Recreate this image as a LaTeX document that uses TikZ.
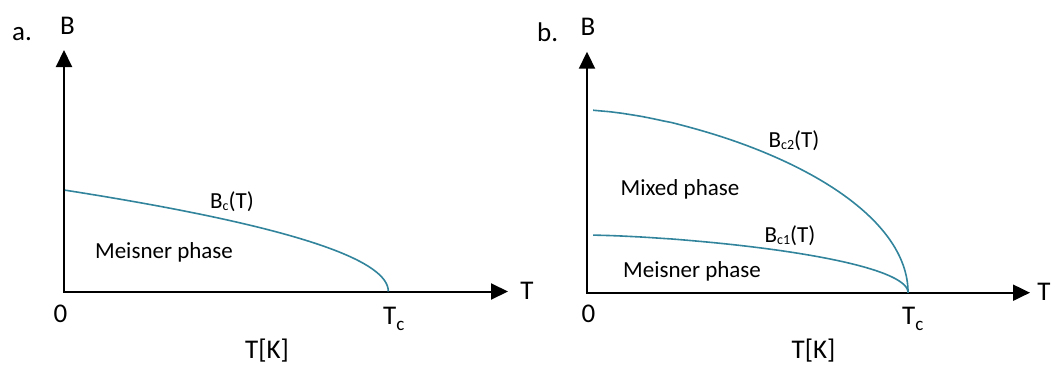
\documentclass[tikz,border=0pt]{standalone}
\usepackage{fontspec}
\setmainfont{Carlito}
\usetikzlibrary{arrows.meta}
\definecolor{curvecol}{RGB}{49,132,155}
\newcommand\fsz[1]{\fontsize{#1}{#1}\selectfont}
\newcommand\lowsub[3]{\raisebox{-#3pt}{\fsz{#2}#1}}
\begin{document}
\begin{tikzpicture}[x=1pt,y=-1pt,
  axes/.style={line width=2pt, line join=miter,
    {Triangle[length=17pt,width=16pt]}-{Triangle[length=17pt,width=16pt]}},
  crv/.style={draw=curvecol, line width=1.6pt},
  big/.style={font=\fsz{27}, inner sep=0, anchor=base},
  lbl/.style={font=\fsz{23}, inner sep=0, anchor=base}]
\useasboundingbox (0,0) rectangle (1062,367);
% ---------- panel a ----------
\coordinate (Oa) at (64,291.5);
\coordinate (Ya) at (64,50);
\coordinate (Xa) at (508,291.5);
\draw[axes] (Ya) -- (Oa) -- (Xa);
\draw[crv] plot[domain=0:1, samples=100, variable=\s]
  ({64+324.3*(1-\s*\s)}, {291.5-101.5*\s});
\node[big, anchor=base west] (la) at (12,40) {a.};
\node[big] (Ba) at (67.5,34) {B};
\node[big] (Ta) at (527,299) {T};
\node[big] (zeroa) at (60.5,322) {0};
\node[big, anchor=base west] (Tca) at (383,324) {T\lowsub{c}{19}{6}};
\node[big] (TKa) at (267,358) {T[K]};
\node[lbl] (Ma) at (164,258) {Meisner phase};
\node[lbl] (Bca) at (232,208) {B\lowsub{c}{14}{2}(T)};
% ---------- panel b ----------
\coordinate (Ob) at (587,292.7);
\coordinate (Yb) at (587,51.7);
\coordinate (Xb) at (1030,292.7);
\draw[axes] (Yb) -- (Ob) -- (Xb);
\draw[crv] plot[domain=0:1, samples=120, variable=\s]
  ({587+321*pow(max(1-\s*\s,0.0001),0.6667)}, {292.7-182.7*\s});
\draw[crv] plot[domain=0:1, samples=120, variable=\s]
  ({587+321*pow(max(1-\s*\s,0.0001),0.6667)}, {292.7-57.7*\s});
\node[big, anchor=base west] (lb) at (537,41.5) {b.};
\node[big] (Bb) at (588,35) {B};
\node[big] (Tb) at (1044,300) {T};
\node[big] (zerob) at (588.5,322) {0};
\node[big, anchor=base west] (Tcb) at (902,324) {T\lowsub{c}{19}{6}};
\node[big] (TKb) at (813.5,358) {T[K]};
\node[lbl] (Mixb) at (680,195) {Mixed phase};
\node[lbl] (Mb) at (692,277) {Meisner phase};
\node[lbl] (Bc2) at (794,147) {B\lowsub{c2}{14}{2}(T)};
\node[lbl] (Bc1) at (790,242) {B\lowsub{c1}{14}{2}(T)};
\end{tikzpicture}
\end{document}
